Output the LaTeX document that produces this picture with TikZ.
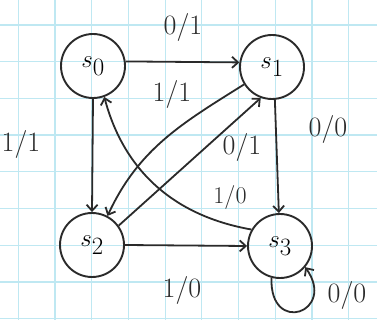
\documentclass[tikz,border=0pt]{standalone}
\usetikzlibrary{arrows.meta}
\begin{document}
\begin{tikzpicture}[x=1pt,y=-1pt,
  state/.style={draw=ink, line width=1.9pt, circle, minimum size=64pt, inner sep=0pt, font=\fontsize{34}{36}\selectfont},
  edge/.style={draw=ink, line width=1.8pt, -{Straight Barb[length=6pt,width=11pt,line width=1.8pt]}},
  lbl/.style={text=ink, font=\fontsize{28}{30}\selectfont, inner sep=0pt}]
\definecolor{ink}{HTML}{2A2A2A}
\definecolor{gridc}{HTML}{BFE8F2}
\useasboundingbox (0,0) rectangle (377,320);
\fill[white] (0,0) rectangle (377,320);
\foreach \i in {0,...,9} {
  \draw[gridc, line width=1.2pt] ({18.3+36.7*\i},0) -- ({18.3+36.7*\i},320);
}
\foreach \j in {0,...,8} {
  \draw[gridc, line width=1.2pt] (0,{25+36.7*\j}) -- (377,{25+36.7*\j});
}
\node[state] (s0) at (93,66) {$s_0$};
\node[state] (s1) at (272,67) {$s_1$};
\node[state] (s2) at (92,245) {$s_2$};
\node[state] (s3) at (280,246) {$s_3$};

\draw[edge] (s0.8) -- (s1.172);
\draw[edge] (s0.south) -- (s2.north);
\draw[edge] (s1.-85) -- (s3.92);
\draw[edge] (s1.212) to[out=212, in=65] (s2.62);
\draw[edge] (s2.36) -- (s1.250);
\draw[edge] (s3.150) to[out=170, in=285] (s0.-70);
\draw[edge] (s2.east) -- (s3.west);
\draw[edge] (s3.255) .. controls +(92:58) and +(55:55) .. (s3.-40);

\node[lbl] (l01) at (183,28) {0/1};
\node[lbl] (l11a) at (172,95) {1/1};
\node[lbl] (l01b) at (242,148) {0/1};
\node[lbl] (l11b) at (21,145) {1/1};
\node[lbl] (l00a) at (328,130) {0/0};
\node[lbl, font=\fontsize{24}{26}\selectfont] (l10a) at (230,198) {1/0};
\node[lbl] (l10b) at (182,290) {1/0};
\node[lbl] (l00b) at (347,295) {0/0};
\end{tikzpicture}
\end{document}
